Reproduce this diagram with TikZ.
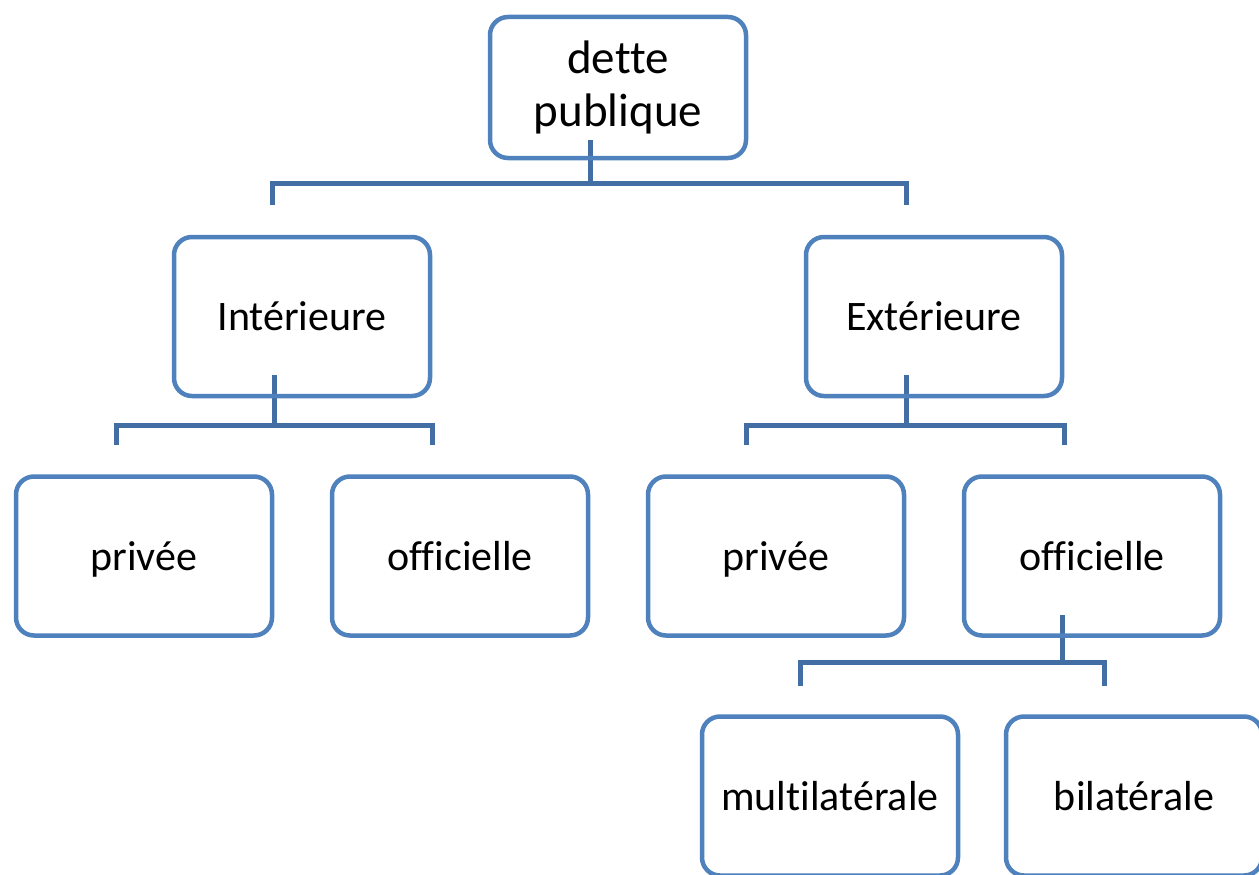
\documentclass[tikz,border=0pt]{standalone}
\usepackage{fontspec}
\setmainfont[Ligatures=NoCommon]{Carlito}
\usetikzlibrary{positioning}
\definecolor{boxblue}{RGB}{79,129,189}
\definecolor{linkblue}{RGB}{66,110,164}

\begin{document}
\begin{tikzpicture}[x=1pt,y=-1pt,
        box/.style={rectangle,rounded corners=18pt,draw=boxblue,fill=white,line width=4.5pt,
          minimum width=256pt,minimum height=159pt,align=center,
          font=\fontsize{42}{53}\selectfont},
        leaf/.style={box,text height=34pt,text depth=6pt},
        link/.style={draw=linkblue,line width=5pt}]
        \useasboundingbox (0,0) rectangle (1259,875);
        % tree links first, boxes on top
        \coordinate (rootJ) at (590,140);
        \coordinate (rootL) at (272,183);
        \coordinate (rootR) at (906,183);
        \coordinate (intJ) at (274,375);
        \coordinate (intL) at (116,425);
        \coordinate (intR) at (432,425);
        \coordinate (extJ) at (906,375);
        \coordinate (extL) at (746,425);
        \coordinate (extR) at (1064,425);
        \coordinate (offJ) at (1062,615);
        \coordinate (offL) at (800,662);
        \coordinate (offR) at (1104,662);
        \draw[link] (rootJ) -- (rootJ |- rootL);
        \draw[link] ([yshift=-22pt]rootL) -- (rootL) -- (rootR) -- ([yshift=-22pt]rootR);
        \draw[link] (intJ) -- (intJ |- intL);
        \draw[link] ([yshift=-20pt]intL) -- (intL) -- (intR) -- ([yshift=-20pt]intR);
        \draw[link] (extJ) -- (extJ |- extL);
        \draw[link] ([yshift=-20pt]extL) -- (extL) -- (extR) -- ([yshift=-20pt]extR);
        \draw[link] (offJ) -- (offJ |- offL);
        \draw[link] ([yshift=-24pt]offL) -- (offL) -- (offR) -- ([yshift=-24pt]offR);
        \node[box,minimum height=141pt,fill=none,font=\fontsize{47}{53}\selectfont] (dette) at (618,87.5) {dette\\publique};
        \node[leaf,fill=none] (interieure) at (302,316.5) {Intérieure};
        \node[leaf,fill=none] (exterieure) at (934,316.5) {Extérieure};
        \node[leaf] (privInt) at (144,556) {privée};
        \node[leaf] (offInt) at (460,556) {officielle};
        \node[leaf] (privExt) at (776,556) {privée};
        \node[leaf,fill=none] (offExt) at (1092,556) {officielle};
        \node[leaf] (multi) at (830,796) {multilatérale};
        \node[leaf] (bilat) at (1134,796) {bilatérale};
      \end{tikzpicture}
\end{document}
